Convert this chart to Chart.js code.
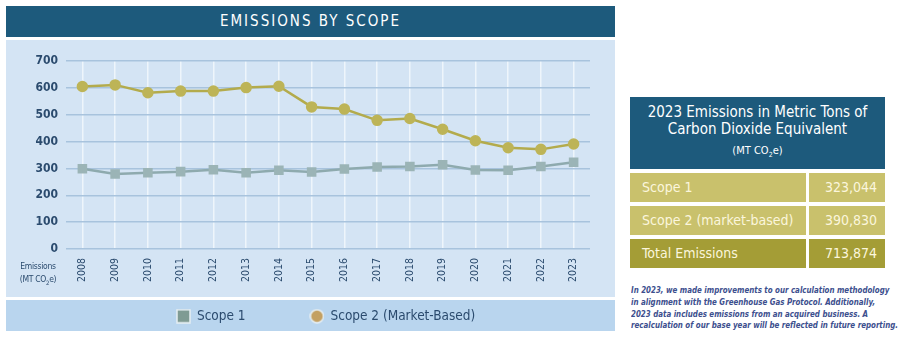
<!DOCTYPE html>
<html>
<head>
<meta charset="utf-8">
<script src="https://cdn.jsdelivr.net/npm/chart.js@4"></script>
<style>
  body { margin: 0; background: #fff; width: 900px; height: 347px; position: relative; overflow: hidden;
         font-family: "Liberation Sans Narrow", "DejaVu Sans Condensed", "Roboto", sans-serif; }
  .header { position: absolute; left: 6px; top: 6px; width: 609px; height: 31px; background: #1d5a7c;
            color: #fff; text-align: center; line-height: 31px; font-size: 15px; letter-spacing: 2px; }
  .panel { position: absolute; left: 6px; top: 40px; width: 609px; height: 257px; background: #d4e4f4; }
  .band { position: absolute; left: 6px; top: 300px; width: 609px; height: 31px; background: #b9d5ee; }
  #wrap { position: absolute; left: 6px; top: 40px; width: 609px; height: 293px; }
  .unit { position: absolute; left: 18px; top: 260px; width: 40px; text-align: center; color: #2b4b6e;
          font-size: 8.5px; line-height: 12.5px; letter-spacing: -0.3px; }
  .unit sub { font-size: 6px; }
  .tab { position: absolute; left: 630px; top: 97px; width: 255px; }
  .th { background: #1d5a7c; color: #fff; text-align: center; height: 72px; box-sizing: border-box; padding-top: 7px;
        font-size: 15px; line-height: 17px; }
  .th small { display: block; font-size: 11px; margin-top: 4px; }
  .th small sub { font-size: 7px; }
  .row { display: flex; height: 29px; margin-top: 4px; color: #fbf6dc; font-size: 14px; line-height: 29px; }
  .row div:first-child { flex: 0 0 176px; padding-left: 12px; box-sizing: border-box; background: #c9c16c; }
  .row div:last-child { flex: 1; margin-left: 3px; text-align: right; padding-right: 8px; background: #c9c16c; }
  .row.total div { background: #a49d36; }
  .note { position: absolute; left: 631px; top: 284px; color: #3d4f8e; font-style: italic;
          font-weight: bold; font-size: 9.5px; line-height: 11.8px; white-space: nowrap; }
  .note span { display: block; transform-origin: 0 50%; }
</style>
</head>
<body>
<div class="header">EMISSIONS BY SCOPE</div>
<div class="panel"></div>
<div class="band"></div>
<div id="wrap"><canvas id="emissionsChart"></canvas></div>
<div class="unit">Emissions<br>(MT CO<sub>2</sub>e)</div>

<div class="tab">
  <div class="th">2023 Emissions in Metric Tons of<br>Carbon Dioxide Equivalent<small>(MT CO<sub>2</sub>e)</small></div>
  <div class="row"><div>Scope 1</div><div>323,044</div></div>
  <div class="row"><div>Scope 2 (market-based)</div><div>390,830</div></div>
  <div class="row total"><div>Total Emissions</div><div>713,874</div></div>
</div>
<div class="note" id="note">
  <span>In 2023, we made improvements to our calculation methodology</span>
  <span>in alignment with the Greenhouse Gas Protocol. Additionally,</span>
  <span>2023 data includes emissions from an acquired business. A</span>
  <span>recalculation of our base year will be reflected in future reporting.</span>
</div>

<script>
// Chart data (thousand MT CO2e)
const years = ['2008', '2009', '2010', '2011', '2012', '2013', '2014', '2015',
               '2016', '2017', '2018', '2019', '2020', '2021', '2022', '2023'];
const scope1 = [299, 279, 284, 288, 295, 284, 293, 287, 298, 305, 307, 314, 294, 293, 307, 323];
const scope2 = [605, 611, 582, 588, 588, 601, 606, 529, 521, 479, 486, 446, 403, 377, 371, 391];
const yTicks = [0, 100, 200, 300, 400, 500, 600, 700];

const condensed = '"Liberation Sans Narrow", "DejaVu Sans Condensed", "Roboto", sans-serif';
const tickColor = '#2b4b6e';

// squeeze footnote lines so the longest one fits the column
function fitNote() {
    const spans = document.querySelectorAll('#note span');
    const widest = Math.max(...[...spans].map(s => s.getBoundingClientRect().width));
    const k = 267 / widest;
    spans.forEach(s => { s.style.transform = 'scaleX(' + k + ')'; });
}

// small marker images for the legend
function legendMarker(shape, fill) {
    const c = document.createElement('canvas');
    c.width = 15; c.height = 15;
    const g = c.getContext('2d');
    g.fillStyle = fill;
    g.strokeStyle = '#e6eef2';
    g.lineWidth = 1.5;
    if (shape === 'rect') {
        g.fillRect(1, 1, 13, 13);
        g.strokeRect(1, 1, 13, 13);
    } else {
        g.beginPath();
        g.arc(7.5, 7.5, 6.5, 0, Math.PI * 2);
        g.fill();
        g.stroke();
    }
    return c;
}

const legendShift = {
    id: 'legendShift',
    afterLayout(chart) {
        chart.legend.left += 25;
        chart.legend.right += 25;
    }
};

document.addEventListener('DOMContentLoaded', function() {
    fitNote();
    const markers = [legendMarker('rect', '#7f9b93'), legendMarker('circle', '#c3a062')];
    const ctx = document.getElementById('emissionsChart');
    new Chart(ctx, {
        type: 'line',
        data: {
            labels: years,
            datasets: [{
                label: 'Scope 1',
                data: scope1,
                borderColor: '#8eaaae',
                backgroundColor: '#9bb4b6',
                pointBackgroundColor: '#9bb4b6',
                pointBorderColor: '#9bb4b6',
                pointStyle: 'rect',
                pointRadius: 5,
                borderWidth: 2.5
            }, {
                label: 'Scope 2 (Market-Based)',
                data: scope2,
                borderColor: '#b3ab4c',
                backgroundColor: '#bdb457',
                pointBackgroundColor: '#bdb457',
                pointBorderColor: '#bdb457',
                pointStyle: 'circle',
                pointRadius: 4.5,
                borderWidth: 2.5
            }]
        },
        plugins: [legendShift],
        options: {
            responsive: true,
            maintainAspectRatio: false,
            animation: false,
            layout: { padding: { left: 6, right: 25, top: 21, bottom: 0 } },
            scales: {
                x: {
                    offset: true,
                    grid: { color: '#eef5fb', lineWidth: 1.5, drawTicks: false, offset: false },
                    border: { display: false },
                    ticks: {
                        minRotation: 90, maxRotation: 90, padding: 9,
                        color: tickColor, font: { family: condensed, size: 10.5 }
                    },
                    afterFit: function(scale) { scale.height = 57.5; }
                },
                y: {
                    min: 0, max: 700,
                    afterBuildTicks: function(scale) { scale.ticks = yTicks.map(v => ({ value: v })); },
                    grid: { color: '#a8c3dd', lineWidth: 1.5, drawTicks: false },
                    border: { display: false },
                    ticks: { padding: 8, color: tickColor, font: { family: condensed, size: 12, weight: 'bold' } },
                    afterFit: function(scale) { scale.width = 54; }
                }
            },
            plugins: {
                legend: {
                    position: 'bottom',
                    labels: {
                        usePointStyle: true,
                        boxWidth: 14, boxHeight: 14,
                        padding: 3,
                        color: tickColor,
                        font: { family: condensed, size: 13.5 },
                        generateLabels: function(chart) {
                            return chart.data.datasets.map((ds, i) => ({
                                text: i === 0 ? ds.label + '                ' : ds.label,
                                pointStyle: markers[i],
                                fontColor: tickColor,
                                datasetIndex: i
                            }));
                        }
                    }
                },
                tooltip: { enabled: false }
            }
        }
    });
});
</script>
</body>
</html>
